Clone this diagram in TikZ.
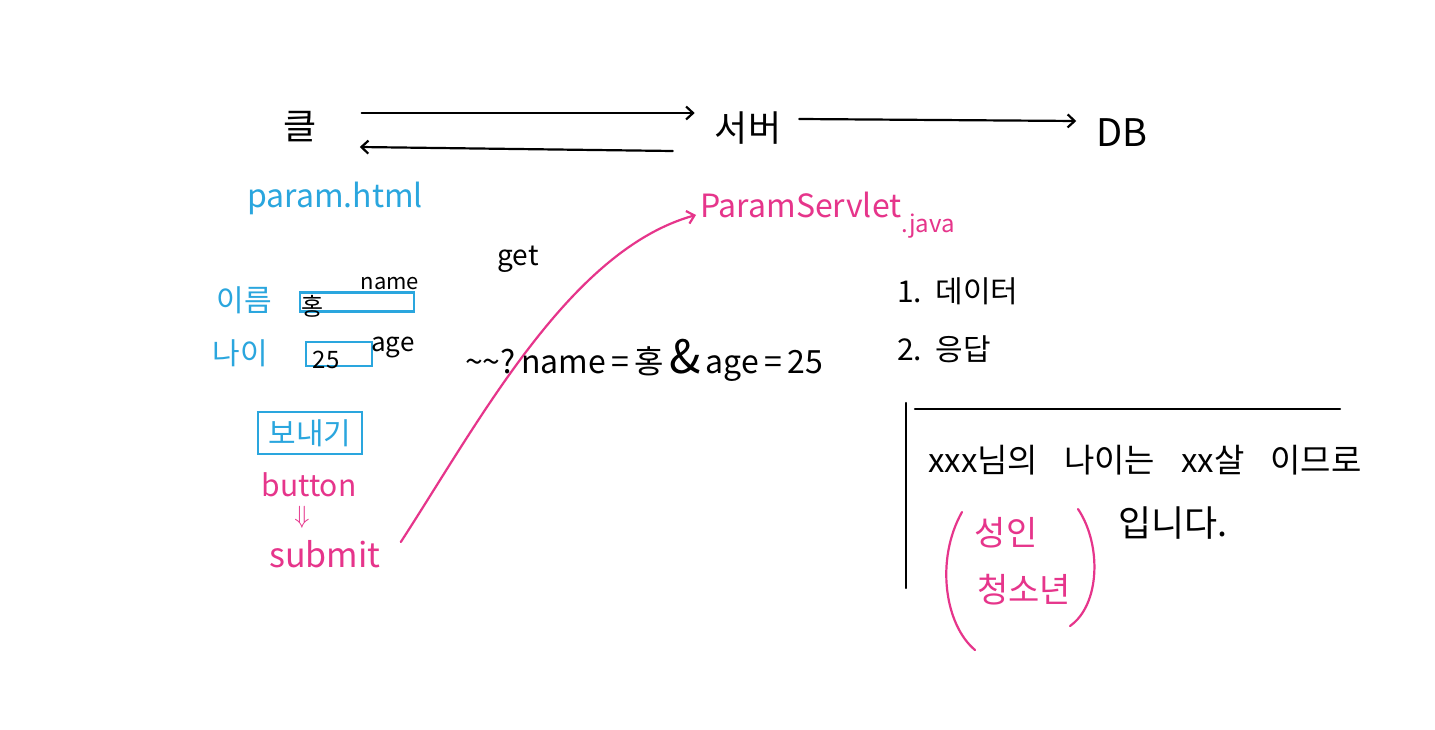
\documentclass[tikz,border=0pt]{standalone}
\usepackage{fontspec}
\setmainfont{Noto Sans CJK KR}
\usetikzlibrary{arrows.meta,calc}
\definecolor{hcyan}{HTML}{2AA6DE}
\definecolor{hmag}{HTML}{E6358B}
\newcommand{\fs}[1]{\fontsize{#1}{#1}\selectfont}
\tikzset{
  ink/.style={line width=2.2pt, line cap=round, line join=round},
  arr/.style={ink, -{Straight Barb[length=7pt,width=13pt,line width=2.2pt]}},
  txt/.style={inner sep=0pt, anchor=center},
  cy/.style={txt, text=hcyan},
  mg/.style={txt, text=hmag},
  bk/.style={txt, text=black},
  field/.style={draw=hcyan, line width=2.2pt, inner sep=0pt, minimum height=20pt},
}
\begin{document}
\begin{tikzpicture}[x=1pt,y=-1pt]
\useasboundingbox[fill=white] (0,0) rectangle (1435,730);
% top row
\node[bk,font=\fs{36}] (cl) at (300,127) {클};
\node[bk,font=\fs{36}] (sv) at (748,128) {서버};
\node[bk,font=\fs{38}] (db) at (1122,133) {DB};
\draw[arr] ([xshift=45pt,yshift=14pt]cl.east) -- ([xshift=-20pt,yshift=15pt]sv.west);
\draw[arr] ([xshift=-42pt,yshift=-23pt]sv.west) -- ([xshift=43pt,yshift=-20pt]cl.east);
\draw[arr] ([xshift=18pt,yshift=9pt]sv.east) -- ([xshift=-20pt,yshift=12pt]db.west);
% client side
\node[cy,font=\fs{32}] (ph) at (335,198) {param.html};
\node[bk,font=\fs{28}] (get) at (518,259) {get};
\node[cy,font=\fs{30}] (nmlbl) at (244,300) {이름};
\node[cy,font=\fs{30}] (aglbl) at (240,353) {나이};
\node[field, minimum width=114pt, minimum height=19pt] (nbox) at (357,302) {};
\node[bk,font=\fs{24}] (hong) at (313,306) {홍};
\node[bk,font=\fs{22}] (nm) at (390,284) {name};
\node[field, minimum width=66pt, minimum height=24pt] (abox) at (339,354) {};
\node[bk,font=\fs{24}] (v25) at (326,360) {25};
\node[bk,font=\fs{26}] (ag) at (393,348) {age};
\node[field, minimum width=104pt, minimum height=42pt, text=hcyan, font=\fs{30}] (send) at (310,433) {보내기};
\node[mg,font=\fs{30}] (btn) at (309,485) {button};
\node[mg,font=\fs{30}] (dn) at (302,517) {$\Downarrow$};
\node[mg,font=\fs{34}] (sub) at (325,554) {submit};
% server
\node[mg,font=\fs{32},anchor=west] (ps) at (700,205) {ParamServlet};
\node[mg,font=\fs{24},anchor=west] (jv) at ([xshift=0pt]ps.east |- 0,226) {.java};
\draw[arr, draw=hmag] ([xshift=20pt,yshift=12pt]sub.east) .. controls (480,420) and (570,250) .. ([xshift=-4pt,yshift=-10pt]ps.west);
\node[bk,font=\fs{32},anchor=west] (qs) at (465,360) {\textasciitilde\textasciitilde?\,name\,=\,홍\,{\fs{46}\&}\,age\,=\,25};
\node[bk,font=\fs{30},anchor=west] (s1) at (897,291) {1.\ \ 데이터};
\node[bk,font=\fs{30},anchor=west] (s2) at (897,349) {2.\ \ 응답};
% response box
\coordinate (vt) at (906,403);
\coordinate (vb) at (906,588);
\coordinate (hl) at (915,409);
\coordinate (hr) at (1340,409);
\draw[ink] (vt) -- (vb);
\draw[ink] (hl) -- (hr);
\node[bk,font=\fs{33},anchor=west] (msg) at (928,460) {xxx님의\hspace{26pt}나이는\hspace{26pt}xx살\hspace{26pt}이므로};
\node[bk,font=\fs{36},anchor=west] (ipn) at (1118,523) {입니다.};
\node[mg,font=\fs{34}] (adult) at (1006,533) {성인};
\node[mg,font=\fs{34}] (teen) at (1024,590) {청소년};
\draw[ink, draw=hmag] (962,512) .. controls (935,560) and (945,625) .. (975,650);
\draw[ink, draw=hmag] (1078,509) .. controls (1102,545) and (1100,605) .. (1070,626);
\end{tikzpicture}
\end{document}
